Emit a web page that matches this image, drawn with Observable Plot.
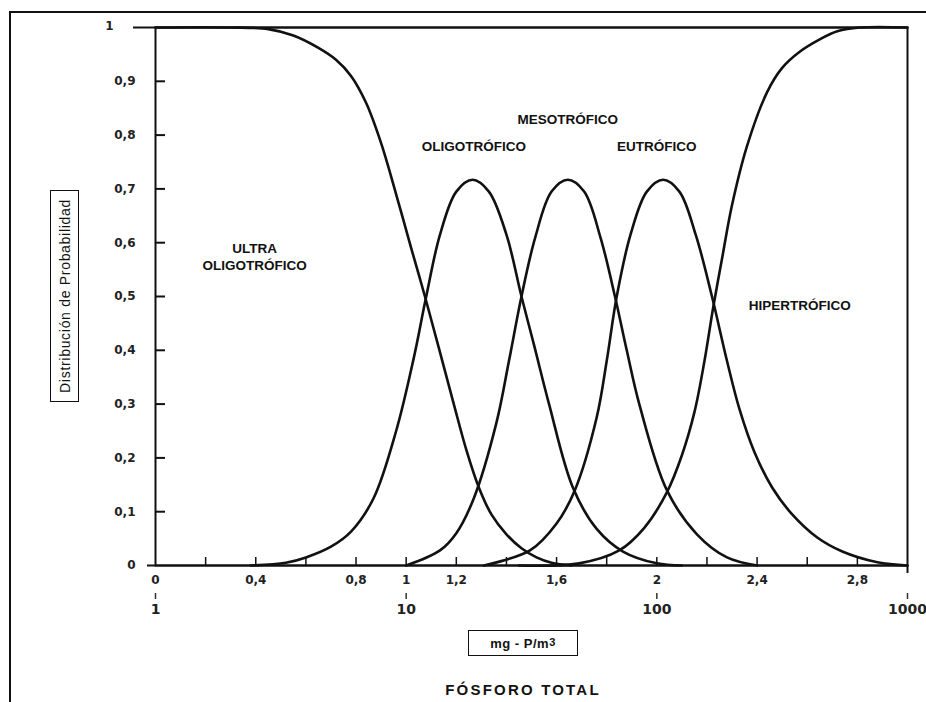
<!DOCTYPE html>
<html>
<head>
<meta charset="utf-8">
<script src="https://cdn.jsdelivr.net/npm/d3@7"></script>
<script src="https://cdn.jsdelivr.net/npm/@observablehq/plot@0.6"></script>
<style>
  html, body { margin: 0; padding: 0; background: #fff; }
  #wrap { position: relative; width: 926px; height: 702px; overflow: hidden; background: #fff; }
  #outer { position: absolute; left: 9px; top: 11px; width: 1000px; height: 800px; border-left: 2px solid #111; border-top: 2px solid #111; }
  #ylab { position: absolute; left: 50px; top: 190px; width: 27px; height: 210px; border: 1.5px solid #111;
          display: flex; align-items: center; justify-content: center; }
  #ylab span { writing-mode: vertical-rl; transform: rotate(180deg); font: 14px "Liberation Sans", Arial, sans-serif; letter-spacing: 0.7px; color: #111; white-space: nowrap; }
  #xunit { position: absolute; left: 468px; top: 630px; width: 108px; height: 24px; border: 1.5px solid #111;
           display: flex; align-items: center; justify-content: center; font: bold 13px "Liberation Sans", Arial, sans-serif; letter-spacing: 0.5px; color: #111; }
  #xunit sup { font-size: 11px; position: relative; top: -1px; }
  #xtitle { position: absolute; left: 0; width: 1046px; top: 681px; text-align: center; font: bold 15px "Liberation Sans", Arial, sans-serif; letter-spacing: 2.2px; color: #111; }
  #chart { position: absolute; left: 0; top: 0; }
</style>
</head>
<body>
<div id="wrap">
  <div id="chart"></div>
  <div id="outer"></div>
  <div id="ylab"><span>Distribución de Probabilidad</span></div>
  <div id="xunit">mg - P/m<sup>3</sup></div>
  <div id="xtitle">FÓSFORO TOTAL</div>
</div>
<script>
// ---- data: [log10 TP, probability] ----
const ultraOligo = [
  [0.00, 1.000], [0.30, 1.000], [0.45, 0.997], [0.55, 0.985], [0.65, 0.962],
  [0.72, 0.940], [0.78, 0.910], [0.84, 0.860], [0.90, 0.785], [0.96, 0.690],
  [1.02, 0.590], [1.075, 0.500], [1.13, 0.405], [1.19, 0.300], [1.24, 0.215],
  [1.29, 0.145], [1.34, 0.095], [1.40, 0.058], [1.46, 0.032], [1.52, 0.015],
  [1.58, 0.005], [1.66, 0.000]
];
const oligotrofico = [
  [0.38, 0.000], [0.52, 0.005], [0.60, 0.015], [0.70, 0.035], [0.78, 0.063],
  [0.87, 0.125], [0.96, 0.250], [1.03, 0.385], [1.08, 0.500], [1.135, 0.615],
  [1.20, 0.695], [1.265, 0.717], [1.33, 0.695], [1.40, 0.615], [1.46, 0.500],
  [1.51, 0.410], [1.57, 0.300], [1.665, 0.145], [1.76, 0.068], [1.865, 0.026],
  [2.00, 0.004], [2.10, 0.000]
];
const mesotrofico = [
  [1.00, 0.000], [1.135, 0.028], [1.20, 0.060], [1.27, 0.125], [1.36, 0.265],
  [1.41, 0.380], [1.46, 0.500], [1.515, 0.610], [1.58, 0.695], [1.645, 0.717],
  [1.71, 0.695], [1.775, 0.610], [1.833, 0.500], [1.88, 0.400], [1.93, 0.300],
  [2.04, 0.140], [2.16, 0.058], [2.28, 0.015], [2.40, 0.000]
];
const eutrofico = [
  [1.31, 0.000], [1.494, 0.028], [1.60, 0.078], [1.673, 0.140], [1.76, 0.275],
  [1.80, 0.380], [1.84, 0.500], [1.895, 0.615], [1.96, 0.695], [2.025, 0.717],
  [2.09, 0.695], [2.155, 0.615], [2.22, 0.500], [2.28, 0.380], [2.33, 0.290],
  [2.39, 0.210], [2.46, 0.145], [2.54, 0.095], [2.64, 0.052], [2.74, 0.026],
  [2.88, 0.006], [3.00, 0.000]
];
const hipertrofico = [
  [1.45, 0.000], [1.69, 0.004], [1.85, 0.028], [1.95, 0.070], [2.04, 0.136],
  [2.10, 0.205], [2.15, 0.285], [2.19, 0.380], [2.225, 0.480], [2.26, 0.570],
  [2.30, 0.670], [2.36, 0.780], [2.44, 0.880], [2.50, 0.925], [2.57, 0.955],
  [2.65, 0.978], [2.72, 0.993], [2.81, 1.000], [3.00, 1.000]
];
const seriesNames = ["ULTRA OLIGOTRÓFICO", "OLIGOTRÓFICO", "MESOTRÓFICO", "EUTRÓFICO", "HIPERTRÓFICO"];
const seriesData = [ultraOligo, oligotrofico, mesotrofico, eutrofico, hipertrofico];

const yTickValues = [0, 0.1, 0.2, 0.3, 0.4, 0.5, 0.6, 0.7, 0.8, 0.9];
const yTopValue = [1];
const xMinorTicks = [0.2, 0.4, 0.6, 0.8, 1, 1.2, 1.4, 1.6, 1.8, 2, 2.2, 2.4, 2.6, 2.8];
const xLabelValues = [0, 0.4, 0.8, 1, 1.2, 1.6, 2, 2.4, 2.8];
const tpValues = [1, 10, 100, 1000];

const curveLabels = [
  {text: "ULTRA\nOLIGOTRÓFICO", x: 0.395, y: 0.575},
  {text: "OLIGOTRÓFICO", x: 1.27, y: 0.78},
  {text: "MESOTRÓFICO", x: 1.645, y: 0.83},
  {text: "EUTRÓFICO", x: 2.0, y: 0.78},
  {text: "HIPERTRÓFICO", x: 2.57, y: 0.485}
];

// ---- build ----
const rows = seriesData.flatMap((arr, i) => arr.map(([x, p]) => ({serie: seriesNames[i], x, p})));
const comma = d => String(d).replace(".", ",");
const tickFont = {fontFamily: "DejaVu Sans, sans-serif", fontWeight: "bold", fontSize: 12, fill: "#222"};

const W = 926, H = 702, ML = 155, MR = 19, MT = 27, MB = 137;
const plotW = W - ML - MR, plotH = H - MT - MB;

const chart = Plot.plot({
  width: W, height: H,
  marginLeft: ML, marginRight: MR, marginTop: MT, marginBottom: MB,
  x: {domain: [0, 3], axis: null},
  y: {domain: [0, 1], axis: null},
  style: {background: "transparent", overflow: "visible"},
  marks: [
    Plot.frame({stroke: "#111", strokeWidth: 2}),
    Plot.ruleY(yTopValue, {insetLeft: -22, stroke: "#111", strokeWidth: 2}),
    Plot.ruleY([0], {insetLeft: -8, stroke: "#111", strokeWidth: 2}),
    Plot.tickY(yTickValues.filter(d => d > 0), {y: d => d, insetRight: plotW - 10, stroke: "#111", strokeWidth: 2}),
    Plot.tickX(xMinorTicks, {x: d => d, insetTop: plotH - 8, stroke: "#111", strokeWidth: 1.5}),
    Plot.tickX([3], {x: d => d, insetTop: plotH, insetBottom: -8, stroke: "#111", strokeWidth: 2}),
    Plot.tickX(tpValues, {x: d => Math.log10(d), insetTop: plotH + 28, insetBottom: -34, stroke: "#333", strokeWidth: 1.5}),
    Plot.text(yTickValues, {y: d => d, text: d => comma(d), frameAnchor: "left", textAnchor: "end", dx: -20, ...tickFont, letterSpacing: 1.5}),
    Plot.text(yTopValue, {y: d => d, text: d => String(d), frameAnchor: "left", textAnchor: "end", dx: -42, dy: -1, ...tickFont}),
    Plot.text(xLabelValues, {x: d => d, text: d => comma(d), frameAnchor: "bottom", dy: 18, ...tickFont, letterSpacing: 1.5}),
    Plot.text(tpValues, {x: d => Math.log10(d), text: d => String(d), frameAnchor: "bottom", dy: 48, ...tickFont, fontSize: 14, letterSpacing: 1.5}),
    Plot.line(rows, {x: "x", y: "p", z: "serie", curve: "catmull-rom", stroke: "#111", strokeWidth: 2.6}),
    Plot.text(curveLabels, {x: "x", y: "y", text: "text", fontFamily: "Liberation Sans, Arial, sans-serif", fontWeight: "bold", fontSize: 13.5, letterSpacing: 0.9, lineHeight: 1.25, fill: "#111"})
  ]
});
document.getElementById("chart").appendChild(chart);
</script>
</body>
</html>
